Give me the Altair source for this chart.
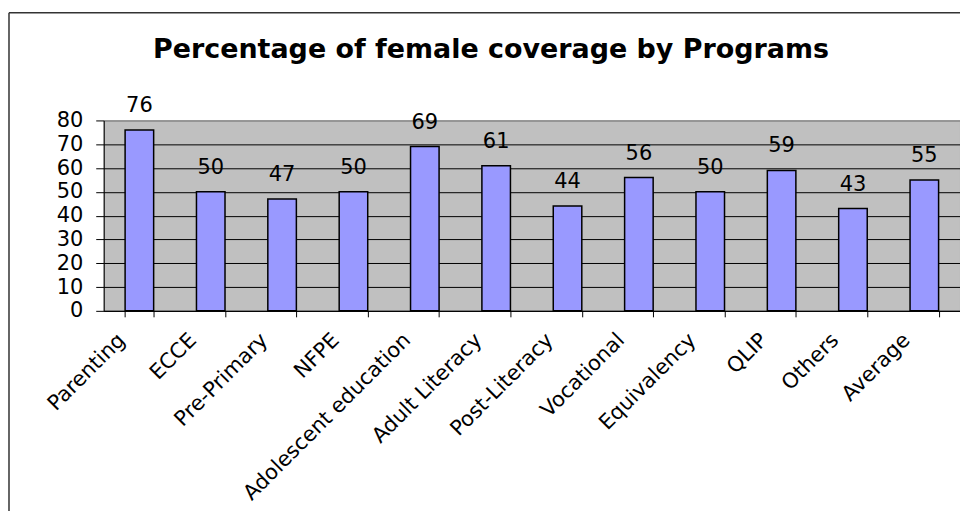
import altair as alt
import pandas as pd

programs = ["Parenting", "ECCE", "Pre-Primary", "NFPE", "Adolescent education",
            "Adult Literacy", "Post-Literacy", "Vocational", "Equivalency", "QLIP",
            "Others", "Average"]
female_pct = [76, 50, 47, 50, 69, 61, 44, 56, 50, 59, 43, 55]
y_ticks = [0, 10, 20, 30, 40, 50, 60, 70, 80]

df = pd.DataFrame({"program": programs, "pct": female_pct})
frame_df = pd.DataFrame({"k": [0]})

FONT = "DejaVu Sans"
FS = 21
W, H = 859, 191

x_enc = alt.X(
    "program:N", sort=programs,
    scale=alt.Scale(paddingInner=0.6, paddingOuter=0.3),
    axis=alt.Axis(title=None, labelAngle=-45, labelAlign="right", labelBaseline="middle",
                  tickBand="extent", tickSize=6, tickColor="black", domainColor="black",
                  labelFont=FONT, labelFontSize=FS, labelColor="black", labelPadding=20,
                  labelOffset=-18, labelLimit=0, grid=False),
)
y_enc = alt.Y(
    "pct:Q",
    scale=alt.Scale(domain=[0, 80], nice=False),
    axis=alt.Axis(title=None, values=y_ticks, tickSize=8, tickColor="black", domainColor="black",
                  labelFont=FONT, labelFontSize=FS, labelColor="black", labelPadding=13,
                  grid=True,
                  gridColor={"condition": {"test": "datum.value === 80", "value": "#808080"},
                             "value": "black"},
                  gridOpacity=1, gridWidth=1),
)

bars = alt.Chart(df).mark_bar(color="#9999FF", stroke="black", strokeWidth=1.5).encode(
    x=x_enc, y=y_enc
)
labels = alt.Chart(df).mark_text(font=FONT, fontSize=FS, color="black", dy=-18,
                                 baseline="alphabetic").encode(
    x=x_enc, y=y_enc, text=alt.Text("pct:Q")
)
left_line = alt.Chart(frame_df).mark_rule(color="#333333", strokeWidth=1.5).encode(
    x=alt.value(-95), x2=alt.value(-95), y=alt.value(-108), y2=alt.value(420)
)
top_line = alt.Chart(frame_df).mark_rule(color="#333333", strokeWidth=1.5).encode(
    x=alt.value(-95), x2=alt.value(900), y=alt.value(-108), y2=alt.value(-108)
)

chart = alt.layer(bars, labels, left_line, top_line).properties(
    width=W, height=H,
    background="white",
    title=alt.TitleParams("Percentage of female coverage by Programs", font=FONT,
                          fontSize=27, fontWeight="bold", color="black", anchor="middle",
                          frame="group", dx=-41, baseline="alphabetic", offset=-73),
    autosize=alt.AutoSizeParams(type="none"),
    padding={"left": 96, "top": 112, "right": 0, "bottom": 200},
).configure_view(fill="#C0C0C0", stroke="#808080", strokeWidth=1)

chart.save("out.html", embed_options={"renderer": "svg", "actions": False})
